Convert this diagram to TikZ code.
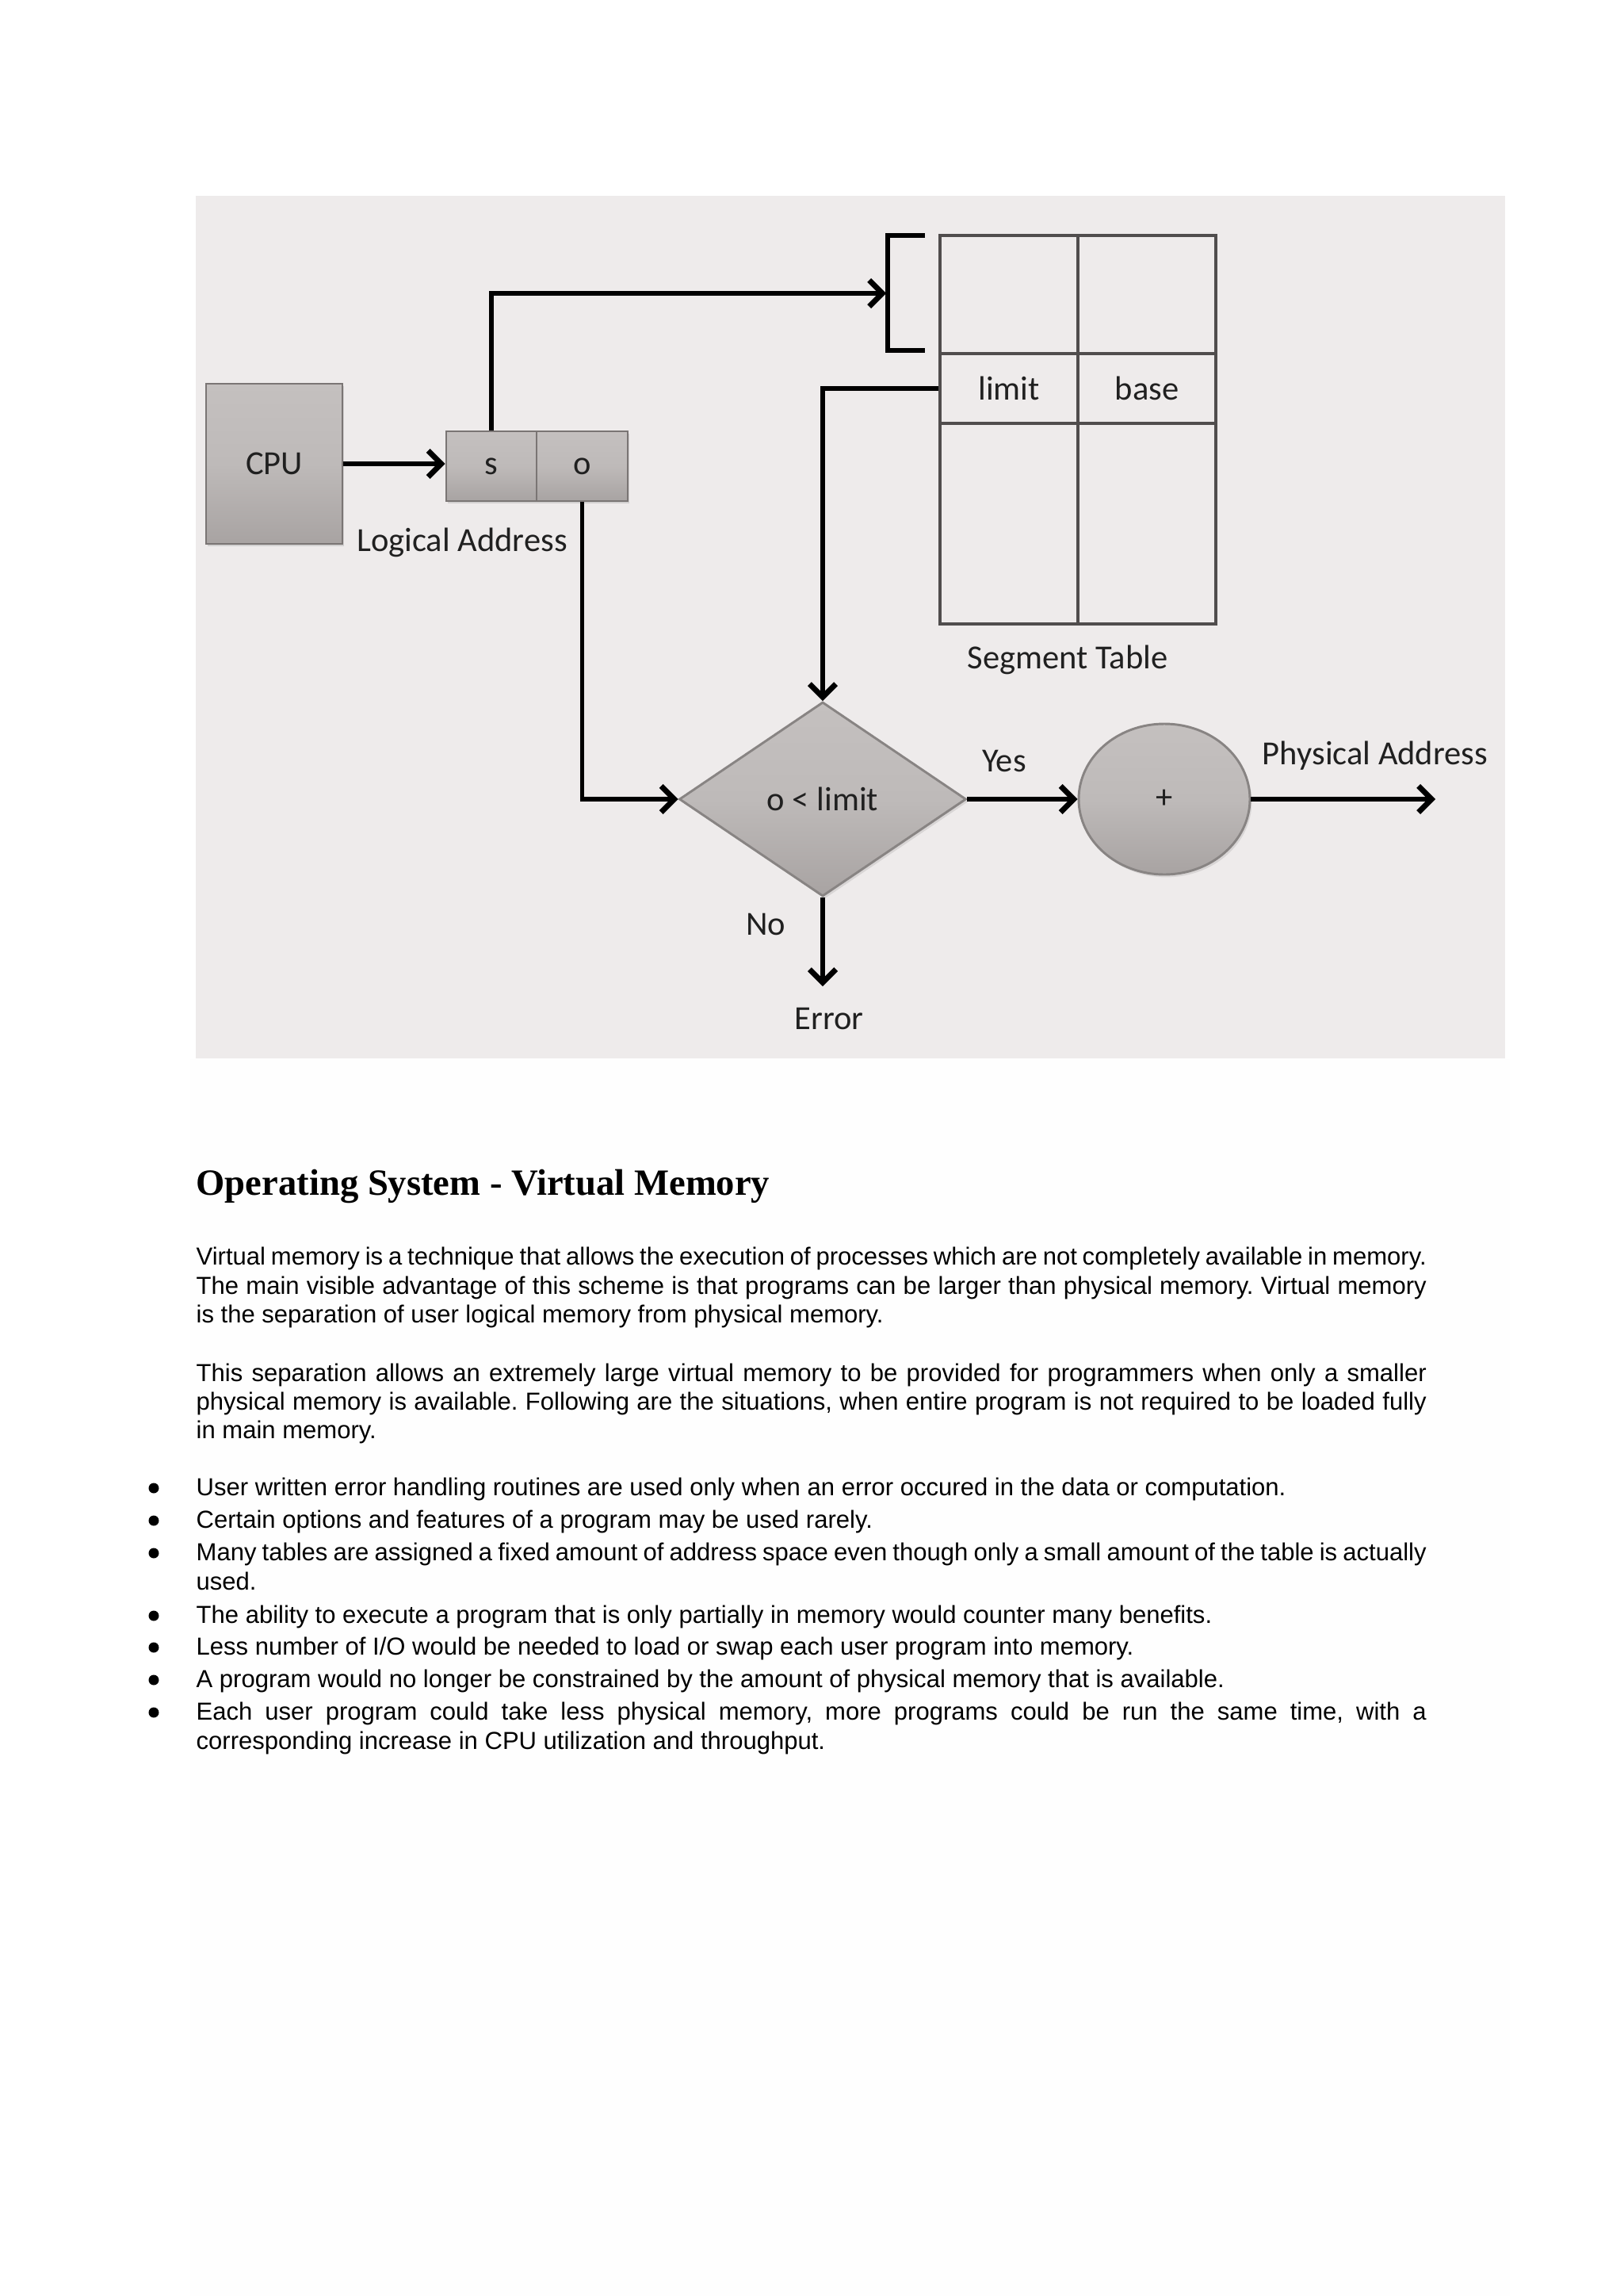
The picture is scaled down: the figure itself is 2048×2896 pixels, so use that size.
\documentclass[tikz,border=0pt]{standalone}
\usepackage{fontspec}
\setmainfont{Liberation Sans}
\newfontfamily\diagfont{Carlito}
\newfontfamily\titlefont{Liberation Serif}
\usetikzlibrary{arrows.meta,shapes.geometric,shadows}
\frenchspacing
\def\PX{0.1025mm}
\newlength\TW
\setlength\TW{159.08mm}
\definecolor{bg}{RGB}{238,235,235}
\definecolor{faint}{RGB}{254,254,254}
\definecolor{boxtop}{RGB}{196,192,191}
\definecolor{boxmid}{RGB}{190,186,185}
\definecolor{boxbot}{RGB}{168,163,162}
\definecolor{boxedge}{RGB}{122,117,116}
\definecolor{diaedge}{RGB}{136,132,131}
\definecolor{txt}{RGB}{32,32,32}
\definecolor{gridc}{RGB}{80,77,77}
\tikzset{
  gbox/.style={draw=boxedge, line width=0.3mm, top color=boxtop, bottom color=boxbot, middle color=boxmid,
    drop shadow={opacity=0.25, shadow xshift=0.25mm, shadow yshift=-0.35mm},
    inner sep=0pt, font=\diagfont\fontsize{12.4}{14}\selectfont, text=txt},
  cell/.style={draw=gridc, line width=0.42mm, inner sep=0pt, font=\diagfont\fontsize{12.4}{14}\selectfont, text=txt},
  lbl/.style={inner sep=0pt, font=\diagfont\fontsize{12.4}{14}\selectfont, text=txt},
  arr/.style={line width=0.58mm, -{Straight Barb[length=1.7mm, width=3.4mm, line width=0.7mm]}},
  plain/.style={line width=0.58mm},
  body/.style={inner sep=0pt, anchor=base west, font=\fontsize{9.05}{10.6}\selectfont},
  bul/.style={circle, fill=black, inner sep=0pt, minimum size=13*\PX},
}
\begin{document}
\begin{tikzpicture}[x=0.1025mm, y=-0.1025mm]
\useasboundingbox (0,0) rectangle (2048,2896);
\fill[white] (0,0) rectangle (2048,2896);
\fill[faint] (240,1336) rectangle (1905,2896);
\fill[bg] (247,247) rectangle (1899,1335);

% CPU and logical address
\node[gbox, minimum width=172*\PX, minimum height=202*\PX] (cpu) at (346,585) {CPU};
\node[gbox, minimum width=114*\PX, minimum height=88*\PX] (s) at (620,588) {s};
\node[gbox, minimum width=115*\PX, minimum height=88*\PX] (o) at (734.5,588) {o};
\node[lbl] (logical) at (583,684) {Logical Address};

% segment table
\node[cell, minimum width=174*\PX, minimum height=149*\PX] (t11) at (1273,371.5) {};
\node[cell, minimum width=174*\PX, minimum height=149*\PX] (t12) at (1447,371.5) {};
\node[cell, minimum width=174*\PX, minimum height=88*\PX] (limit) at (1273,490) {limit};
\node[cell, minimum width=174*\PX, minimum height=88*\PX] (base) at (1447,490) {base};
\node[cell, minimum width=174*\PX, minimum height=253*\PX] (t31) at (1273,660.5) {};
\node[cell, minimum width=174*\PX, minimum height=253*\PX] (t32) at (1447,660.5) {};
\node[lbl] (segtab) at (1347,832) {Segment Table};

% bracket
\draw[plain] (1167,297) -- (1120,297) -- (1120,442) -- (1167,442);
\coordinate (brk) at (1118,370);

% decision and adder
\node[diamond, draw=diaedge, line width=0.3mm, top color=boxtop, bottom color=boxbot, middle color=boxmid,
  drop shadow={opacity=0.2, shadow xshift=0.25mm, shadow yshift=-0.35mm},
  minimum width=362*\PX, minimum height=245*\PX, inner sep=0pt,
  font=\diagfont\fontsize{12.4}{14}\selectfont, text=txt] (dia) at (1038,1008) {o < limit};
\node[ellipse, draw=diaedge, line width=0.3mm, top color=boxtop, bottom color=boxbot, middle color=boxmid,
  drop shadow={opacity=0.2, shadow xshift=0.25mm, shadow yshift=-0.35mm},
  minimum width=216*\PX, minimum height=190*\PX, inner sep=0pt,
  font=\diagfont\fontsize{12.4}{14}\selectfont, text=txt] (plus) at (1469,1008) {+};
\node[lbl] (yes) at (1267,960) {Yes};
\node[lbl] (phys) at (1735,953) {Physical Address};
\node[lbl] (no) at (966,1166) {No};
\node[lbl] (error) at (1046,1285) {Error};
\coordinate (pout) at (1811,1008);
\coordinate (errin) at (1038,1244);

% connectors
\draw[arr] (cpu) -- (cpu -| s.west);
\draw[arr] (s.north) |- (brk);
\draw[arr] (limit.west) -| (dia.north);
\draw[arr] (o.south) |- (dia.west);
\draw[arr] (dia.east) -- (plus.west);
\draw[arr] (plus.east) -- (pout);
\draw[arr] (dia.south) -- (errin);

% text
\node[inner sep=0pt, anchor=base west, font=\titlefont\bfseries\fontsize{13.6}{16}\selectfont] (title) at (247,1507) {Operating System - Virtual Memory};

\node[body] (p1a) at (247,1595) {\makebox[\TW][s]{Virtual memory is a technique that allows the execution of processes which are not completely available in memory.}};
\node[body] (p1b) at (247,1632) {\makebox[\TW][s]{The main visible advantage of this scheme is that programs can be larger than physical memory. Virtual memory}};
\node[body] (p1c) at (247,1668) {is the separation of user logical memory from physical memory.};

\node[body] (p2a) at (247,1742) {\makebox[\TW][s]{This separation allows an extremely large virtual memory to be provided for programmers when only a smaller}};
\node[body] (p2b) at (247,1778) {\makebox[\TW][s]{physical memory is available. Following are the situations, when entire program is not required to be loaded fully}};
\node[body] (p2c) at (247,1814) {in main memory.};

\node[bul] (b1) at (194,1877) {};
\node[body] (i1) at (247,1886) {User written error handling routines are used only when an error occured in the data or computation.};
\node[bul] (b2) at (194,1918) {};
\node[body] (i2) at (247,1927) {Certain options and features of a program may be used rarely.};
\node[bul] (b3) at (194,1959) {};
\node[body] (i3a) at (247,1968) {\makebox[\TW][s]{Many tables are assigned a fixed amount of address space even though only a small amount of the table is actually}};
\node[body] (i3b) at (247,2005) {used.};
\node[bul] (b4) at (194,2038) {};
\node[body] (i4) at (247,2047) {The ability to execute a program that is only partially in memory would counter many benefits.};
\node[bul] (b5) at (194,2078) {};
\node[body] (i5) at (247,2087) {Less number of I/O would be needed to load or swap each user program into memory.};
\node[bul] (b6) at (194,2119) {};
\node[body] (i6) at (247,2128) {A program would no longer be constrained by the amount of physical memory that is available.};
\node[bul] (b7) at (194,2160) {};
\node[body] (i7a) at (247,2169) {\makebox[\TW][s]{Each user program could take less physical memory, more programs could be run the same time, with a}};
\node[body] (i7b) at (247,2206) {corresponding increase in CPU utilization and throughput.};
\end{tikzpicture}
\end{document}
